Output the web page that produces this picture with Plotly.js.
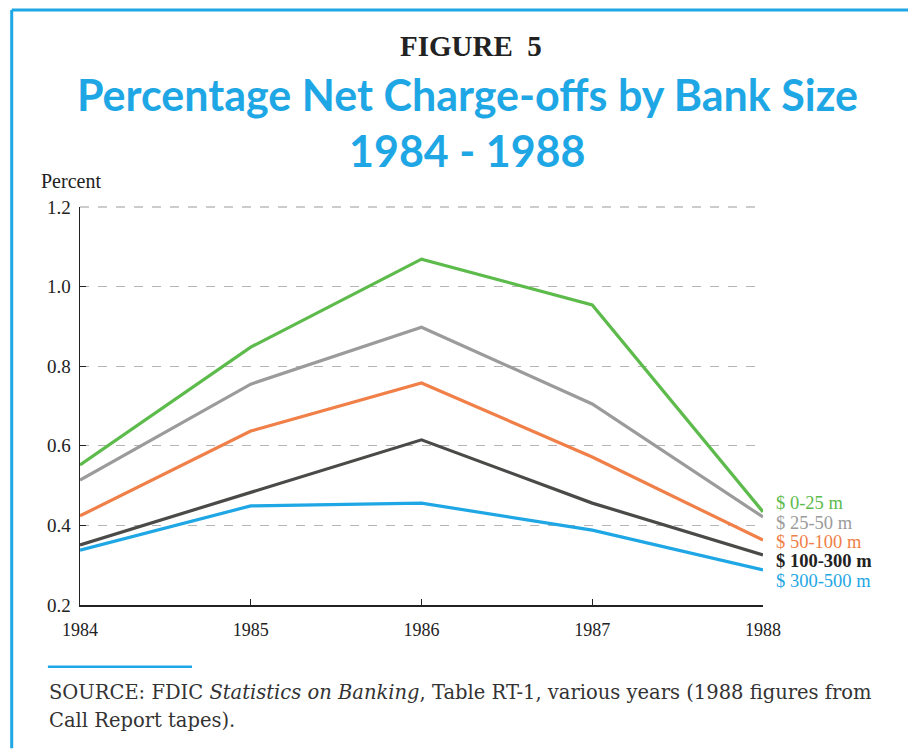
<!DOCTYPE html>
<html>
<head>
<meta charset="utf-8">
<script src="https://cdn.plot.ly/plotly-3.0.1.min.js"></script>
<style>html,body{margin:0;padding:0;background:#fff;}#chart{width:908px;height:750px;}</style>
</head>
<body>
<div id="chart"></div>
<script>
const years = [1984, 1985, 1986, 1987, 1988];
const seriesNames = ["$ 0-25 m", "$ 25-50 m", "$ 50-100 m", "$ 100-300 m", "$ 300-500 m"];
const size0_25 = [0.552, 0.848, 1.069, 0.954, 0.434];
const size25_50 = [0.514, 0.755, 0.898, 0.705, 0.421];
const size50_100 = [0.424, 0.637, 0.758, 0.572, 0.363];
const size100_300 = [0.351, 0.484, 0.615, 0.456, 0.326];
const size300_500 = [0.338, 0.449, 0.456, 0.388, 0.288];
const yTicks = [0.2, 0.4, 0.6, 0.8, 1.0, 1.2];
const yTickLabels = ["0.2", "0.4", "0.6", "0.8", "1.0", "1.2"];

const colors = ["#5dbb4c", "#9b9b9b", "#f07f48", "#4a4a48", "#1ea7e4"];
const values = [size0_25, size25_50, size50_100, size100_300, size300_500];
const labelY = [0.256, 0.207, 0.158, 0.111, 0.061];

const traces = values.map((v, i) => ({
  x: years, y: v, type: 'scatter', mode: 'lines', name: seriesNames[i],
  line: {color: colors[i], width: 3.2}, showlegend: false, hoverinfo: 'skip'
}));

const serif = "Liberation Serif, DejaVu Serif, serif";
const titleFont = "Lato, Open Sans, sans-serif";
const annotations = [
  {text: "<b>FIGURE  5</b>", x: 0.572, y: 1.405, xref: 'paper', yref: 'paper', yanchor: 'middle', showarrow: false,
   font: {family: serif, size: 29, color: '#222'}},
  {text: "<b>Percentage Net Charge-offs by Bank Size</b>", x: 0.567, y: 1.283, xref: 'paper', yref: 'paper', yanchor: 'middle', showarrow: false,
   font: {family: titleFont, size: 43, color: '#1ea7e4'}},
  {text: "<b>1984 - 1988</b>", x: 0.566, y: 1.143, xref: 'paper', yref: 'paper', yanchor: 'middle', showarrow: false,
   font: {family: titleFont, size: 43, color: '#1ea7e4'}},
  {text: "Percent", x: -0.06, y: 1.065, xref: 'paper', yref: 'paper', xanchor: 'left', yanchor: 'middle', showarrow: false,
   font: {family: serif, size: 20, color: '#222'}}
];

seriesNames.forEach((n, i) => {
  annotations.push({text: i === 3 ? '<b>' + n + '</b>' : n, x: 1.016, y: labelY[i], xref: 'paper', yref: 'paper',
    xanchor: 'left', yanchor: 'middle', showarrow: false,
    font: {family: serif, size: 18.5, color: i === 3 ? '#222' : colors[i]}});
});

annotations.push({text: "SOURCE: FDIC <i>Statistics on Banking</i>, Table RT-1, various years (1988 figures from", x: -0.048, y: -0.219,
  xref: 'paper', yref: 'paper', xanchor: 'left', yanchor: 'middle', showarrow: false,
  font: {family: "DejaVu Serif, serif", size: 19.5, color: '#333'}});
annotations.push({text: "Call Report tapes).", x: -0.048, y: -0.289,
  xref: 'paper', yref: 'paper', xanchor: 'left', yanchor: 'middle', showarrow: false,
  font: {family: "DejaVu Serif, serif", size: 19.5, color: '#333'}});

const layout = {
  width: 908, height: 750,
  margin: {l: 80, r: 145, t: 207, b: 145},
  paper_bgcolor: '#fff', plot_bgcolor: '#fff',
  xaxis: {range: [1984, 1988], tickvals: years, ticktext: years.map(String), ticks: 'inside', ticklen: 6,
    tickcolor: '#222', showline: true, linecolor: '#222', linewidth: 1.5, showgrid: false, zeroline: false,
    ticklabelstandoff: 8,
    tickfont: {family: serif, size: 18, color: '#222'}, fixedrange: true},
  yaxis: {range: [0.2, 1.2], tickvals: yTicks, ticktext: yTickLabels, ticks: 'inside', ticklen: 6,
    tickcolor: '#222', showline: true, linecolor: '#222', linewidth: 1.5, showgrid: true,
    gridcolor: '#b5b5b5', gridwidth: 1, griddash: 'dash', zeroline: false,
    ticklabelstandoff: 4,
    tickfont: {family: serif, size: 19, color: '#222'}, fixedrange: true},
  annotations: annotations,
  shapes: [
    {type: 'line', xref: 'paper', yref: 'paper', x0: 0, x1: 1, y0: 1, y1: 1, line: {color: '#999', width: 1, dash: 'dash'}},
    {type: 'line', xref: 'paper', yref: 'paper', x0: -0.047, x1: 0.164, y0: -0.155, y1: -0.155, line: {color: '#1ea7e4', width: 2.5}},
    {type: 'line', xref: 'paper', yref: 'paper', x0: -0.1, x1: 1.24, y0: 1.495, y1: 1.495, line: {color: '#1ea7e4', width: 3}},
    {type: 'line', xref: 'paper', yref: 'paper', x0: -0.1, x1: -0.1, y0: 1.495, y1: -0.36, line: {color: '#1ea7e4', width: 3}}
  ]
};

Plotly.newPlot('chart', traces, layout, {displayModeBar: false, staticPlot: true});
</script>
</body>
</html>
